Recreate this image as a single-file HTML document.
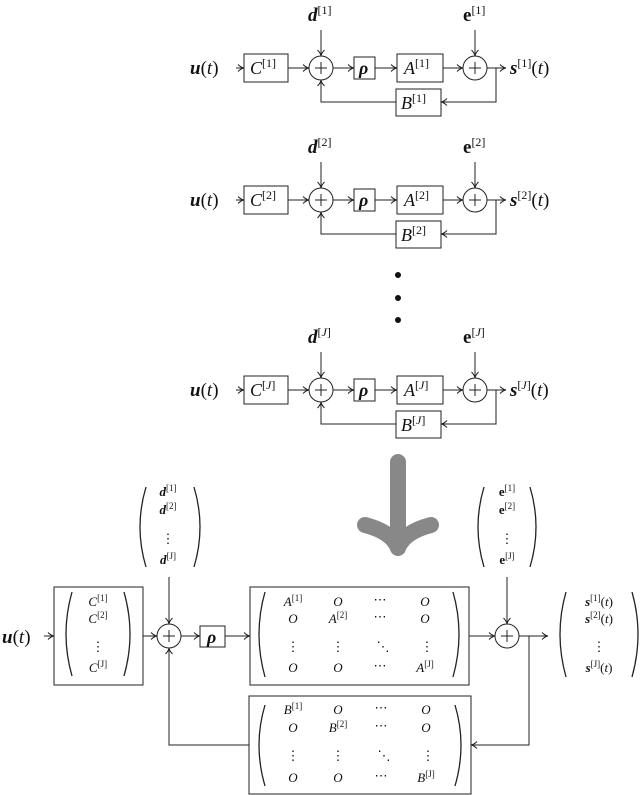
<!DOCTYPE html>
<html><head><meta charset="utf-8"><style>
html,body{margin:0;padding:0;background:#fff}
svg{display:block}
text{font-family:"Liberation Serif",serif;fill:#111}
.it{font-style:italic}
.bi{font-style:italic;font-weight:bold}
.b{font-weight:bold}
</style></head><body>
<svg width="640" height="795" viewBox="0 0 640 795" xmlns="http://www.w3.org/2000/svg">
<defs>
<marker id="ar" markerWidth="8" markerHeight="8" refX="7" refY="4" orient="auto" markerUnits="userSpaceOnUse">
<path d="M1,0.5 Q4,3.5 7,4 Q4,4.5 1,7.5" fill="none" stroke="#222" stroke-width="1"/>
</marker>
<g id="blk" fill="none" stroke="#222" stroke-width="1">
<line x1="236" y1="0" x2="244" y2="0" marker-end="url(#ar)"/>
<rect x="244" y="-14" width="44" height="28"/>
<line x1="288" y1="0" x2="309" y2="0" marker-end="url(#ar)"/>
<circle cx="321" cy="0" r="12"/>
<line x1="315" y1="0" x2="327" y2="0"/><line x1="321" y1="-6" x2="321" y2="6"/>
<line x1="321" y1="-38" x2="321" y2="-12" marker-end="url(#ar)"/>
<line x1="333" y1="0" x2="354" y2="0" marker-end="url(#ar)"/>
<rect x="354" y="-11" width="21" height="22"/>
<line x1="375" y1="0" x2="397" y2="0" marker-end="url(#ar)"/>
<rect x="397" y="-14" width="46" height="28"/>
<line x1="443" y1="0" x2="463" y2="0" marker-end="url(#ar)"/>
<circle cx="475" cy="0" r="12"/>
<line x1="469" y1="0" x2="481" y2="0"/><line x1="475" y1="-6" x2="475" y2="6"/>
<line x1="475" y1="-38" x2="475" y2="-12" marker-end="url(#ar)"/>
<line x1="487" y1="0" x2="506" y2="0" marker-end="url(#ar)"/>
<polyline points="496,0 496,34 441,34" marker-end="url(#ar)"/>
<rect x="396" y="21" width="45" height="27"/>
<polyline points="396,34 321,34 321,12" marker-end="url(#ar)"/>
</g>
</defs>

<g transform="translate(0,68)"><use href="#blk"/>
<text x="190" y="6" font-size="19"><tspan class="bi">u</tspan>(<tspan class="it">t</tspan>)</text>
<text x="250" y="6" font-size="18" class="it">C<tspan font-size="12" font-style="normal" dy="-7">[1]</tspan></text>
<text x="359" y="6" font-size="18" class="bi">ρ</text>
<text x="404" y="6" font-size="18" class="it">A<tspan font-size="12" font-style="normal" dy="-7">[1]</tspan></text>
<text x="401" y="41" font-size="18" class="it">B<tspan font-size="12" font-style="normal" dy="-7">[1]</tspan></text>
<text x="308" y="-47" font-size="19" class="bi">d<tspan font-size="12" font-style="normal" font-weight="normal" dy="-7">[1]</tspan></text>
<text x="463" y="-47" font-size="19" class="b">e<tspan font-size="12" font-weight="normal" dy="-7">[1]</tspan></text>
<text x="510" y="6" font-size="19"><tspan class="bi">s</tspan><tspan font-size="12" dy="-7">[1]</tspan><tspan dy="7">(</tspan><tspan class="it">t</tspan>)</text>
</g>
<g transform="translate(0,200)"><use href="#blk"/>
<text x="190" y="6" font-size="19"><tspan class="bi">u</tspan>(<tspan class="it">t</tspan>)</text>
<text x="250" y="6" font-size="18" class="it">C<tspan font-size="12" font-style="normal" dy="-7">[2]</tspan></text>
<text x="359" y="6" font-size="18" class="bi">ρ</text>
<text x="404" y="6" font-size="18" class="it">A<tspan font-size="12" font-style="normal" dy="-7">[2]</tspan></text>
<text x="401" y="41" font-size="18" class="it">B<tspan font-size="12" font-style="normal" dy="-7">[2]</tspan></text>
<text x="308" y="-47" font-size="19" class="bi">d<tspan font-size="12" font-style="normal" font-weight="normal" dy="-7">[2]</tspan></text>
<text x="463" y="-47" font-size="19" class="b">e<tspan font-size="12" font-weight="normal" dy="-7">[2]</tspan></text>
<text x="510" y="6" font-size="19"><tspan class="bi">s</tspan><tspan font-size="12" dy="-7">[2]</tspan><tspan dy="7">(</tspan><tspan class="it">t</tspan>)</text>
</g>
<circle cx="398" cy="275" r="3" fill="#111"/><circle cx="398" cy="298" r="3" fill="#111"/><circle cx="398" cy="320" r="3" fill="#111"/>
<g transform="translate(0,390)"><use href="#blk"/>
<text x="190" y="6" font-size="19"><tspan class="bi">u</tspan>(<tspan class="it">t</tspan>)</text>
<text x="250" y="6" font-size="18" class="it">C<tspan font-size="12" font-style="normal" dy="-7">[<tspan font-style="italic">J</tspan>]</tspan></text>
<text x="359" y="6" font-size="18" class="bi">ρ</text>
<text x="404" y="6" font-size="18" class="it">A<tspan font-size="12" font-style="normal" dy="-7">[<tspan font-style="italic">J</tspan>]</tspan></text>
<text x="401" y="41" font-size="18" class="it">B<tspan font-size="12" font-style="normal" dy="-7">[<tspan font-style="italic">J</tspan>]</tspan></text>
<text x="308" y="-47" font-size="19" class="bi">d<tspan font-size="12" font-style="normal" font-weight="normal" dy="-7">[<tspan font-style="italic">J</tspan>]</tspan></text>
<text x="463" y="-47" font-size="19" class="b">e<tspan font-size="12" font-weight="normal" dy="-7">[<tspan font-style="italic">J</tspan>]</tspan></text>
<text x="510" y="6" font-size="19"><tspan class="bi">s</tspan><tspan font-size="12" dy="-7">[<tspan font-style="italic">J</tspan>]</tspan><tspan dy="7">(</tspan><tspan class="it">t</tspan>)</text>
</g>

<path d="M398,462 L398,548 M365,525 Q392,532 398,548 Q404,532 431,525" fill="none" stroke="#888" stroke-width="16" stroke-linecap="round" stroke-linejoin="round"/>

<g fill="none" stroke="#222" stroke-width="1">
<line x1="44" y1="636" x2="54" y2="636" marker-end="url(#ar)"/>
<rect x="54" y="587" width="89" height="98"/>
<line x1="143" y1="636" x2="157" y2="636" marker-end="url(#ar)"/>
<circle cx="169" cy="636" r="12"/>
<line x1="163" y1="636" x2="175" y2="636"/><line x1="169" y1="630" x2="169" y2="642"/>
<line x1="169" y1="577" x2="169" y2="624" marker-end="url(#ar)"/>
<line x1="181" y1="636" x2="200" y2="636" marker-end="url(#ar)"/>
<rect x="200" y="626" width="25" height="21"/>
<line x1="225" y1="636" x2="250" y2="636" marker-end="url(#ar)"/>
<rect x="250" y="587" width="219" height="98"/>
<line x1="469" y1="636" x2="495" y2="636" marker-end="url(#ar)"/>
<circle cx="507" cy="636" r="12"/>
<line x1="501" y1="636" x2="513" y2="636"/><line x1="507" y1="630" x2="507" y2="642"/>
<line x1="507" y1="577" x2="507" y2="624" marker-end="url(#ar)"/>
<line x1="519" y1="636" x2="548" y2="636" marker-end="url(#ar)"/>
<polyline points="529,636 529,745 471,745" marker-end="url(#ar)"/>
<rect x="249" y="696" width="222" height="98"/>
<polyline points="249,745 169,745 169,648" marker-end="url(#ar)"/>
<g stroke-width="1.3">
<path d="M72,592 Q60,634 72,676"/><path d="M124,592 Q136,634 124,676"/>
<path d="M265,592 Q253,634 265,677"/><path d="M453,592 Q465,634 453,677"/>
<path d="M265,705 Q253,745 265,786"/><path d="M455,705 Q467,745 455,786"/>
<path d="M146,487 Q134,527 146,567"/><path d="M194,487 Q206,527 194,567"/>
<path d="M484,487 Q472,527 484,567"/><path d="M530,487 Q542,527 530,567"/>
<path d="M566,592 Q554,634 566,677"/><path d="M632,592 Q644,634 632,677"/>
</g>
</g>
<text x="2" y="643" font-size="19"><tspan class="bi">u</tspan>(<tspan class="it">t</tspan>)</text>
<text x="207" y="643" font-size="18" class="bi">ρ</text>
<g font-size="13" text-anchor="middle">
<text x="98" y="606" class="it">C<tspan font-size="9" font-style="normal" dy="-5">[1]</tspan></text>
<text x="98" y="623" class="it">C<tspan font-size="9" font-style="normal" dy="-5">[2]</tspan></text>
<text x="98" y="651">⋮</text>
<text x="98" y="672" class="it">C<tspan font-size="9" font-style="normal" dy="-5">[J]</tspan></text>
<text x="293" y="606" class="it">A<tspan font-size="9" font-style="normal" dy="-5">[1]</tspan></text>
<text x="338" y="606" class="it">O</text><text x="380" y="604">⋯</text><text x="425" y="606" class="it">O</text>
<text x="293" y="623" class="it">O</text><text x="338" y="623" class="it">A<tspan font-size="9" font-style="normal" dy="-5">[2]</tspan></text><text x="380" y="621">⋯</text><text x="425" y="623" class="it">O</text>
<text x="293" y="651">⋮</text><text x="338" y="651">⋮</text><text x="383" y="651">⋱</text><text x="427" y="651">⋮</text>
<text x="293" y="672" class="it">O</text><text x="338" y="672" class="it">O</text><text x="380" y="670">⋯</text><text x="425" y="672" class="it">A<tspan font-size="9" font-style="normal" dy="-5">[J]</tspan></text>
<text x="293" y="714" class="it">B<tspan font-size="9" font-style="normal" dy="-5">[1]</tspan></text>
<text x="338" y="714" class="it">O</text><text x="381" y="712">⋯</text><text x="426" y="714" class="it">O</text>
<text x="293" y="732" class="it">O</text><text x="338" y="732" class="it">B<tspan font-size="9" font-style="normal" dy="-5">[2]</tspan></text><text x="381" y="730">⋯</text><text x="426" y="732" class="it">O</text>
<text x="293" y="760">⋮</text><text x="338" y="760">⋮</text><text x="384" y="760">⋱</text><text x="428" y="760">⋮</text>
<text x="293" y="782" class="it">O</text><text x="338" y="782" class="it">O</text><text x="381" y="780">⋯</text><text x="426" y="782" class="it">B<tspan font-size="9" font-style="normal" dy="-5">[J]</tspan></text>
<text x="168" y="496" class="bi">d<tspan font-size="9" font-style="normal" font-weight="normal" dy="-5">[1]</tspan></text>
<text x="168" y="514" class="bi">d<tspan font-size="9" font-style="normal" font-weight="normal" dy="-5">[2]</tspan></text>
<text x="168" y="543">⋮</text>
<text x="168" y="564" class="bi">d<tspan font-size="9" font-style="normal" font-weight="normal" dy="-5">[J]</tspan></text>
<text x="507" y="496" class="b">e<tspan font-size="9" font-weight="normal" dy="-5">[1]</tspan></text>
<text x="507" y="514" class="b">e<tspan font-size="9" font-weight="normal" dy="-5">[2]</tspan></text>
<text x="507" y="543">⋮</text>
<text x="507" y="564" class="b">e<tspan font-size="9" font-weight="normal" dy="-5">[J]</tspan></text>
<text x="599" y="606"><tspan class="bi">s</tspan><tspan font-size="9" dy="-5">[1]</tspan><tspan dy="5">(</tspan><tspan class="it">t</tspan>)</text>
<text x="599" y="623"><tspan class="bi">s</tspan><tspan font-size="9" dy="-5">[2]</tspan><tspan dy="5">(</tspan><tspan class="it">t</tspan>)</text>
<text x="599" y="651">⋮</text>
<text x="599" y="672"><tspan class="bi">s</tspan><tspan font-size="9" dy="-5">[J]</tspan><tspan dy="5">(</tspan><tspan class="it">t</tspan>)</text>
</g>
</svg>
</body></html>
